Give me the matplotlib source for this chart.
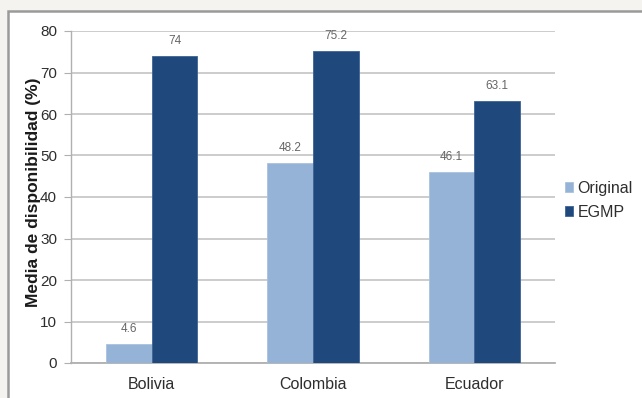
import matplotlib
matplotlib.use("Agg")
import matplotlib.pyplot as plt
from matplotlib.patches import Rectangle

categories = ["Bolivia", "Colombia", "Ecuador"]
original = [4.6, 48.2, 46.1]
egmp = [74, 75.2, 63.1]
series_names = ["Original", "EGMP"]
y_ticks = [0, 10, 20, 30, 40, 50, 60, 70, 80]
y_label = "Media de disponibilidad (%)"

plt.rcParams["font.family"] = ["Liberation Sans", "DejaVu Sans"]

light = "#95b3d7"
dark = "#1f497d"
text_col = "#2e2e2e"

fig = plt.figure(figsize=(6.42, 3.98), dpi=100)
fig.patch.set_facecolor("#f4f3ef")

# white panel with grey frame
panel = Rectangle((8 / 642, -0.01), 1.0, 1 - 10.5 / 398 + 0.01, transform=fig.transFigure,
                  facecolor="white", edgecolor="#9a9a9a", linewidth=1.8, zorder=-10)
fig.patches.append(panel)

ax = fig.add_axes([71 / 642, 1 - 363 / 398, (555 - 71) / 642, (363 - 31) / 398])
ax.set_zorder(1)
ax.set_facecolor("none")

w = 0.283
x = list(range(len(categories)))
ax.bar([i - w / 2 for i in x], original, width=w, color=light, edgecolor="#a9c1de",
       linewidth=0.6, label=series_names[0], zorder=3)
ax.bar([i + w / 2 for i in x], egmp, width=w, color=dark, edgecolor="#3d6394",
       linewidth=0.6, label=series_names[1], zorder=3)

for i in x:
    ax.text(i - w / 2, original[i] + 2.2, f"{original[i]:g}", ha="center", va="bottom",
            fontsize=8.5, color="#666666")
    ax.text(i + w / 2, egmp[i] + 2.2, f"{egmp[i]:g}", ha="center", va="bottom",
            fontsize=8.5, color="#666666")

ax.set_xlim(-0.5, 2.5)
ax.set_ylim(0, 80)
ax.set_yticks(y_ticks)
ax.set_xticks(x)
ax.set_xticklabels(categories)
ax.yaxis.grid(True, color="#c8c8c8", linewidth=1.3, zorder=0)
ax.set_axisbelow(True)
for s in ["top", "right"]:
    ax.spines[s].set_visible(False)
ax.spines["left"].set_color("#b0b0b0")
ax.spines["bottom"].set_color("#b0b0b0")
ax.spines["left"].set_linewidth(1.0)
ax.spines["bottom"].set_linewidth(1.3)
ax.tick_params(axis="y", length=5, color="#b0b0b0", labelsize=11, labelcolor=text_col, pad=5)
ax.tick_params(axis="x", length=0, labelsize=11.5, labelcolor=text_col, pad=10)
ax.set_ylabel(y_label, fontsize=12.5, fontweight="bold", color="#1a1a1a")
ax.yaxis.set_label_coords(-0.062, 0.515)

leg = ax.legend(loc="center left", bbox_to_anchor=(0.99, 0.49), frameon=False,
                fontsize=11.5, handlelength=0.55, handleheight=0.55, handletextpad=0.25,
                labelspacing=0.55, labelcolor=text_col)

fig.savefig("out.png", dpi=100, facecolor=fig.get_facecolor())
